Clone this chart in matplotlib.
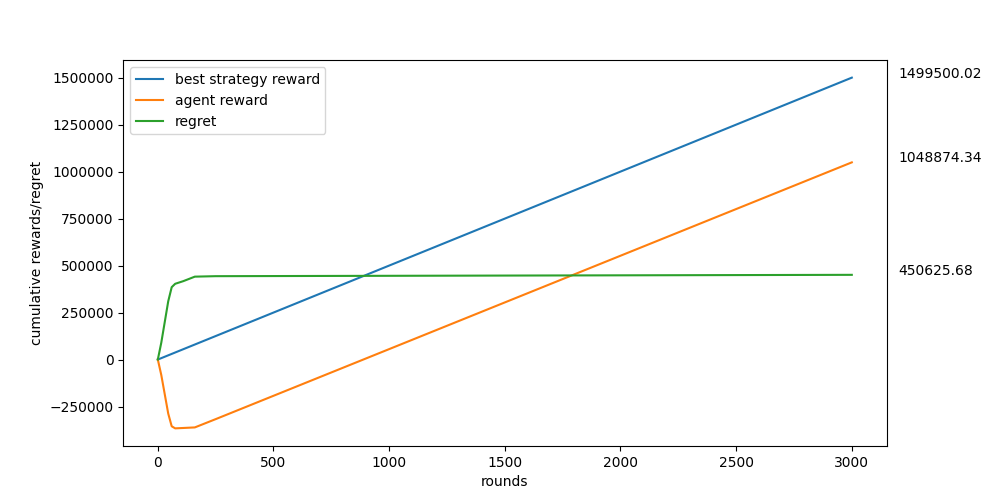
import matplotlib
matplotlib.use("Agg")
import matplotlib.pyplot as plt

# values
best_rounds = [0, 3000]
best_reward = [0, 1499500.02]

agent_rounds = [0, 15, 30, 45, 60, 75, 110, 160, 250, 3000]
agent_reward = [0, -82500, -185000, -287500, -355000, -366000, -364000, -361000, -317000, 1048874.34]

regret_rounds = [0, 15, 30, 45, 60, 75, 110, 160, 250, 3000]
regret = [0, 90000, 200000, 310000, 385000, 403000, 417000, 441000, 443500, 450625.68]

fig = plt.figure(figsize=(9.85, 5.01), dpi=100)
plt.plot(best_rounds, best_reward, label="best strategy reward")
plt.plot(agent_rounds, agent_reward, label="agent reward")
plt.plot(regret_rounds, regret, label="regret")

# final values annotated to the right of the axes
for series in (best_reward, agent_reward, regret):
    plt.text(3200, series[-1], f"{series[-1]:.2f}")

plt.ticklabel_format(style="plain", axis="y")
plt.xlabel("rounds")
plt.ylabel("cumulative rewards/regret")
plt.legend(loc="upper left")

plt.savefig("out.png")
